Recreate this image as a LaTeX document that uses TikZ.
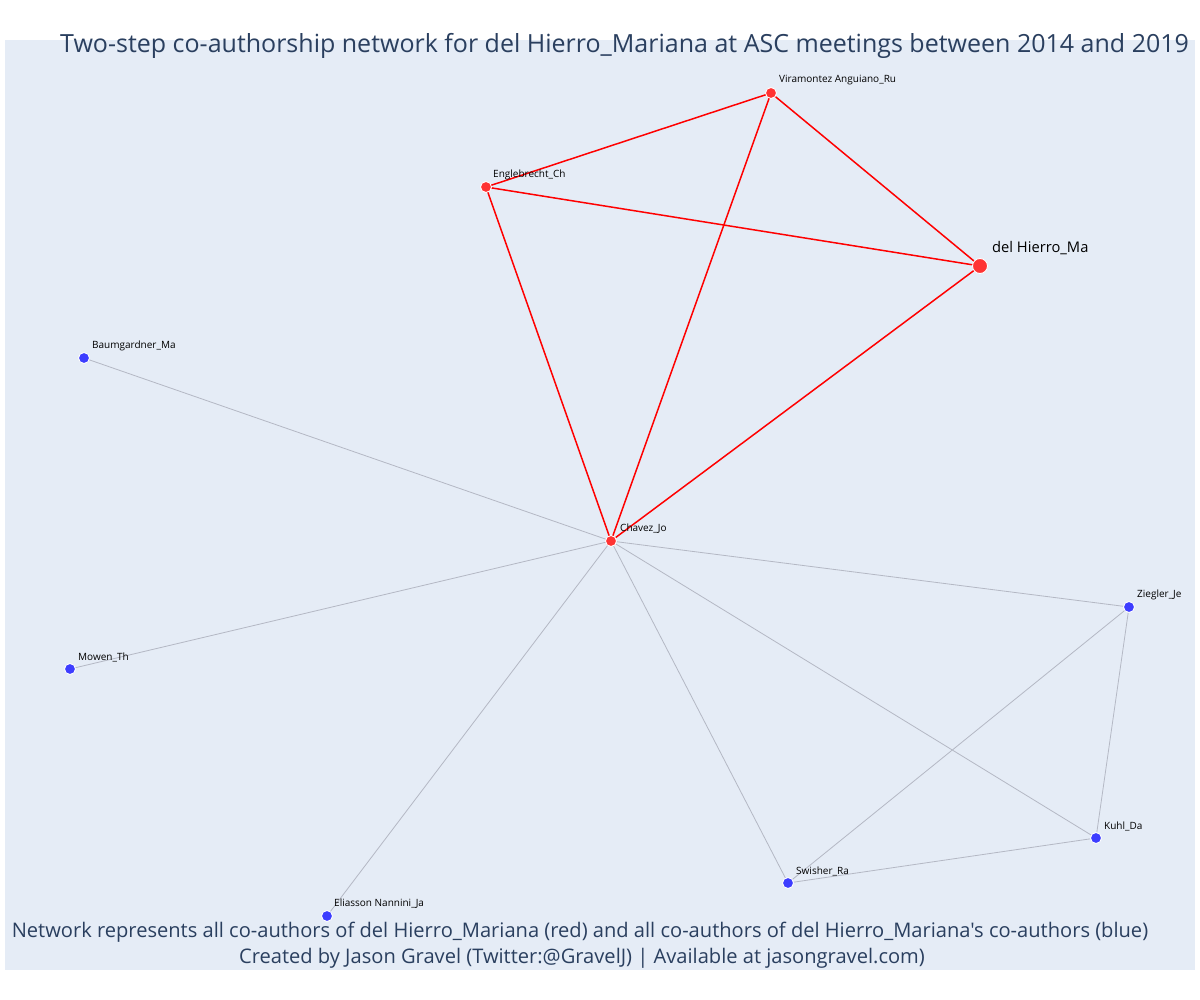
\documentclass[tikz,border=0pt]{standalone}
\usepackage{fontspec}
\setmainfont{Open Sans}[Ligatures=TeXOff]
\definecolor{plotbg}{HTML}{E5ECF6}
\definecolor{titlec}{HTML}{2A3F5F}
\definecolor{redn}{HTML}{FF3333}
\definecolor{bluen}{HTML}{3D3DFF}
\definecolor{greyedge}{HTML}{B4B8C4}
\begin{document}
\begin{tikzpicture}[x=1pt,y=-1pt,
  redv/.style={circle,fill=redn,draw=white,line width=0.9pt,inner sep=0pt,minimum size=11pt},
  bluev/.style={circle,fill=bluen,draw=white,line width=0.9pt,inner sep=0pt,minimum size=11pt},
  bigv/.style={redv,minimum size=15pt},
  lab/.style={anchor=west,inner sep=0pt,font=\fontsize{10}{11}\selectfont,text=black},
  biglab/.style={anchor=west,inner sep=0pt,font=\fontsize{14.7}{16}\selectfont,text=black},
  redge/.style={draw=red,line width=1.5pt},
  gedge/.style={draw=greyedge,line width=0.8pt},
  ttl/.style={inner sep=0pt,text=titlec}]
\useasboundingbox (0,0) rectangle (1200,1000);
\fill[white] (0,0) rectangle (1200,1000);
\fill[plotbg] (5,40) rectangle (1195,970);

\coordinate (vir) at (771,93);
\coordinate (eng) at (486,187);
\coordinate (del) at (980,266);
\coordinate (bau) at (84,358);
\coordinate (cha) at (611,541);
\coordinate (mow) at (70,669);
\coordinate (zie) at (1129,607);
\coordinate (kuh) at (1096,838);
\coordinate (swi) at (788,883);
\coordinate (eli) at (327,916);

% grey edges
\draw[gedge] (cha) -- (bau);
\draw[gedge] (cha) -- (mow);
\draw[gedge] (cha) -- (eli);
\draw[gedge] (cha) -- (swi);
\draw[gedge] (cha) -- (kuh);
\draw[gedge] (cha) -- (zie);
\draw[gedge] (zie) -- (swi);
\draw[gedge] (zie) -- (kuh);
\draw[gedge] (kuh) -- (swi);
% red edges
\draw[redge] (vir) -- (eng);
\draw[redge] (vir) -- (cha);
\draw[redge] (vir) -- (del);
\draw[redge] (eng) -- (del);
\draw[redge] (eng) -- (cha);
\draw[redge] (del) -- (cha);

% vertices
\node[redv] (nvir) at (vir) {};
\node[redv] (neng) at (eng) {};
\node[bigv] (ndel) at (del) {};
\node[redv] (ncha) at (cha) {};
\node[bluev] (nbau) at (bau) {};
\node[bluev] (nmow) at (mow) {};
\node[bluev] (nzie) at (zie) {};
\node[bluev] (nkuh) at (kuh) {};
\node[bluev] (nswi) at (swi) {};
\node[bluev] (neli) at (eli) {};

% labels
\node[lab] (lvir) at ([shift={(8,-13)}]vir) {Viramontez Anguiano\_Ru};
\node[lab] (leng) at ([shift={(7,-12)}]eng) {Englebrecht\_Ch};
\node[biglab] (ldel) at ([shift={(12,-18)}]del) {del Hierro\_Ma};
\node[lab] (lcha) at ([shift={(9,-12)}]cha) {Chavez\_Jo};
\node[lab] (lbau) at ([shift={(8,-12)}]bau) {Baumgardner\_Ma};
\node[lab] (lmow) at ([shift={(8,-12)}]mow) {Mowen\_Th};
\node[lab] (lzie) at ([shift={(8,-12)}]zie) {Ziegler\_Je};
\node[lab] (lkuh) at ([shift={(8,-12)}]kuh) {Kuhl\_Da};
\node[lab] (lswi) at ([shift={(8,-12)}]swi) {Swisher\_Ra};
\node[lab] (leli) at ([shift={(7,-12)}]eli) {Eliasson Nannini\_Ja};

% title and footer
\node[ttl,anchor=west,font=\fontsize{25}{28}\selectfont] (title) at (60,46) {Two-step co-authorship network for del Hierro\_Mariana at ASC meetings between 2014 and 2019};
\node[ttl,font=\fontsize{20.1}{23}\selectfont] (foot1) at (580,932) {Network represents all co-authors of del Hierro\_Mariana (red) and all co-authors of del Hierro\_Mariana's co-authors (blue)};
\node[ttl,font=\fontsize{20.1}{23}\selectfont] (foot2) at (582,958) {Created by Jason Gravel (Twitter:@GravelJ) | Available at jasongravel.com)};
\end{tikzpicture}
\end{document}
